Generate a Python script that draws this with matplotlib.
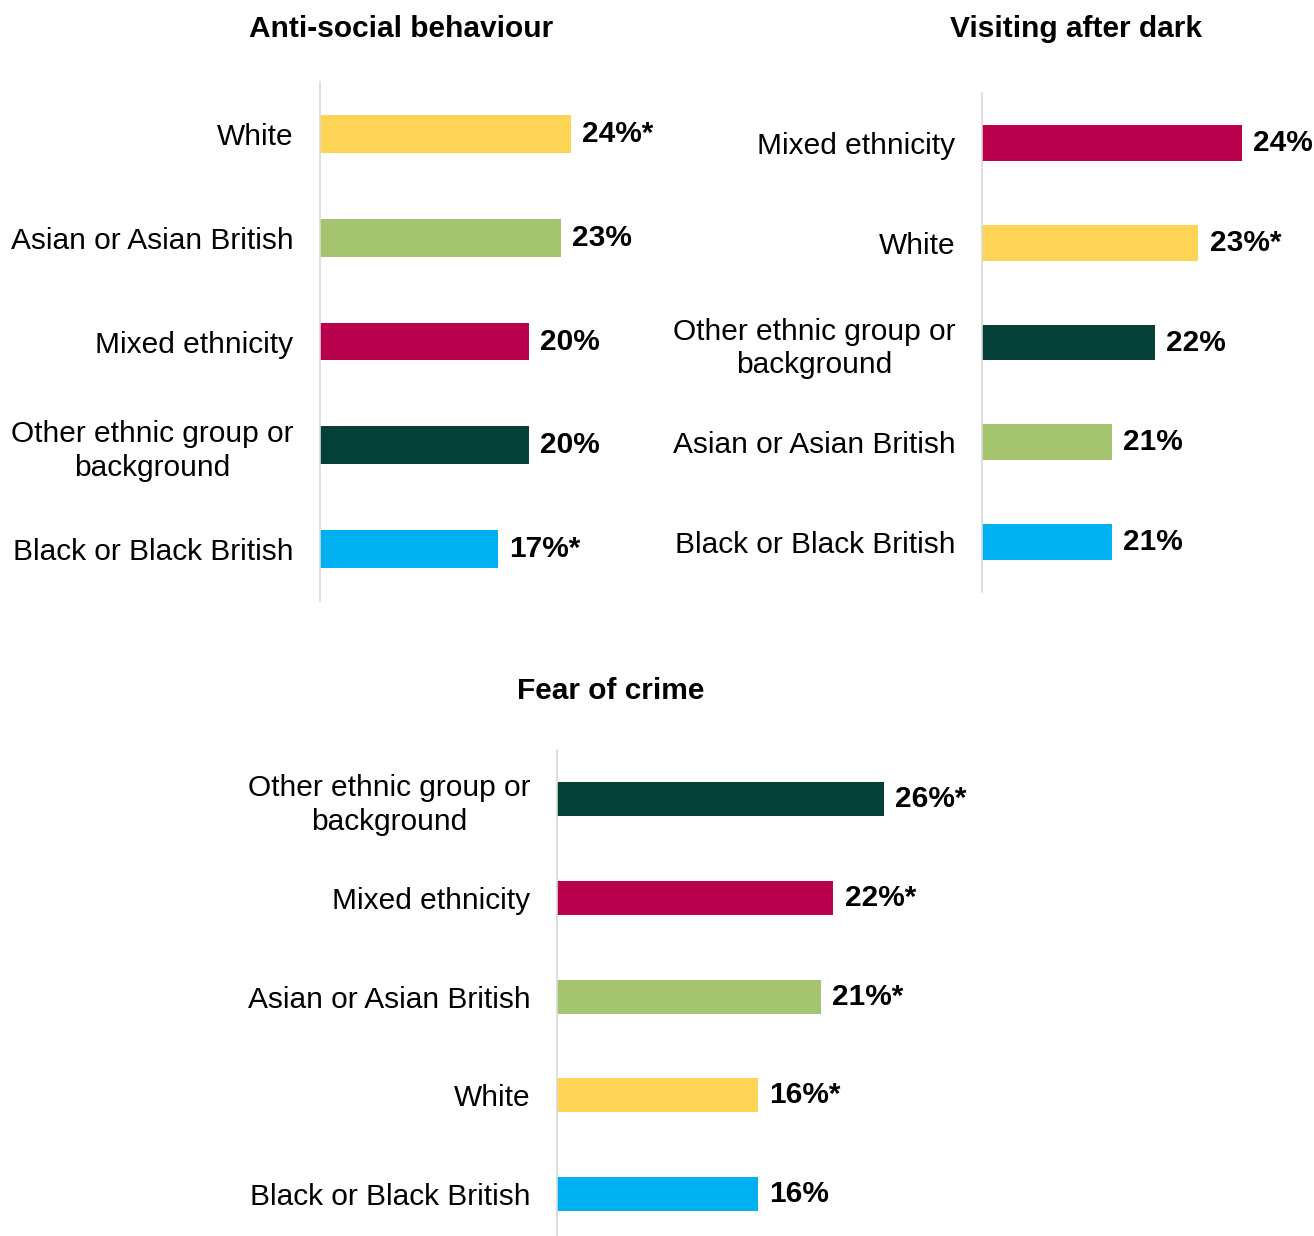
import matplotlib.pyplot as plt

plt.rcParams['font.family'] = ['Liberation Sans', 'DejaVu Sans']

W, H = 1314, 1236
FS = 21.5

YELLOW = "#FED456"
GREEN = "#A5C46F"
CRIMSON = "#B8004C"
DARK = "#043F38"
BLUE = "#00B0F0"

# Anti-social behaviour
asb_groups = ["White", "Asian or Asian British", "Mixed ethnicity",
              "Other ethnic group or\nbackground", "Black or Black British"]
asb_values = [24, 23, 20, 20, 17]
asb_labels = ["24%*", "23%", "20%", "20%", "17%*"]
asb_colors = [YELLOW, GREEN, CRIMSON, DARK, BLUE]

# Visiting after dark
vad_groups = ["Mixed ethnicity", "White", "Other ethnic group or\nbackground",
              "Asian or Asian British", "Black or Black British"]
vad_values = [24, 23, 22, 21, 21]
vad_labels = ["24%", "23%*", "22%", "21%", "21%"]
vad_colors = [CRIMSON, YELLOW, DARK, GREEN, BLUE]

# Fear of crime
foc_groups = ["Other ethnic group or\nbackground", "Mixed ethnicity",
              "Asian or Asian British", "White", "Black or Black British"]
foc_values = [26, 22, 21, 16, 16]
foc_labels = ["26%*", "22%*", "21%*", "16%*", "16%"]
foc_colors = [DARK, CRIMSON, GREEN, YELLOW, BLUE]

fig = plt.figure(figsize=(W / 100, H / 100), dpi=100)


def px_axes(left, right, top, bottom):
    return fig.add_axes([left / W, 1 - bottom / H, (right - left) / W, (bottom - top) / H])


def draw_panel(ax, groups, values, labels, colors, xlim, ylim, height):
    y = range(len(groups))
    ax.barh(y, values, height=height, color=colors)
    ax.set_xlim(*xlim)
    ax.set_ylim(*ylim)
    ax.set_yticks(list(y))
    ax.set_yticklabels(groups, fontsize=FS, color="black", ha="right",
                       multialignment="center", linespacing=1.25)
    ax.tick_params(axis="y", length=0, pad=19)
    ax.set_xticks([])
    for side in ["top", "right", "bottom"]:
        ax.spines[side].set_visible(False)
    ax.spines["left"].set_color("#D9D9D9")
    ax.spines["left"].set_linewidth(1.2)
    for yi, v, lab in zip(y, values, labels):
        ax.annotate(lab, (v, yi), xytext=(8, 0), textcoords="offset points",
                    ha="left", va="center", fontsize=FS, fontweight="bold",
                    annotation_clip=False)


ax1 = px_axes(320, 634, 82, 601)
draw_panel(ax1, asb_groups, asb_values, asb_labels, asb_colors,
           (0, 30), (4.5, -0.5), 0.365)

ax2 = px_axes(982, 1285, 93, 592)
draw_panel(ax2, vad_groups, vad_values, vad_labels, vad_colors,
           (18, 25), (4.5, -0.5), 0.36)

ax3 = px_axes(557, 934, 750, 1236)
draw_panel(ax3, foc_groups, foc_values, foc_labels, foc_colors,
           (0, 30), (4.424, -0.5), 0.345)

fig.text(401 / W, 1 - 29 / H, "Anti-social behaviour", ha="center", va="center",
         fontsize=FS, fontweight="bold")
fig.text(1076 / W, 1 - 29 / H, "Visiting after dark", ha="center", va="center",
         fontsize=FS, fontweight="bold")
fig.text(611 / W, 1 - 691 / H, "Fear of crime", ha="center", va="center",
         fontsize=FS, fontweight="bold")

fig.savefig("out.png", dpi=100, facecolor="white")
